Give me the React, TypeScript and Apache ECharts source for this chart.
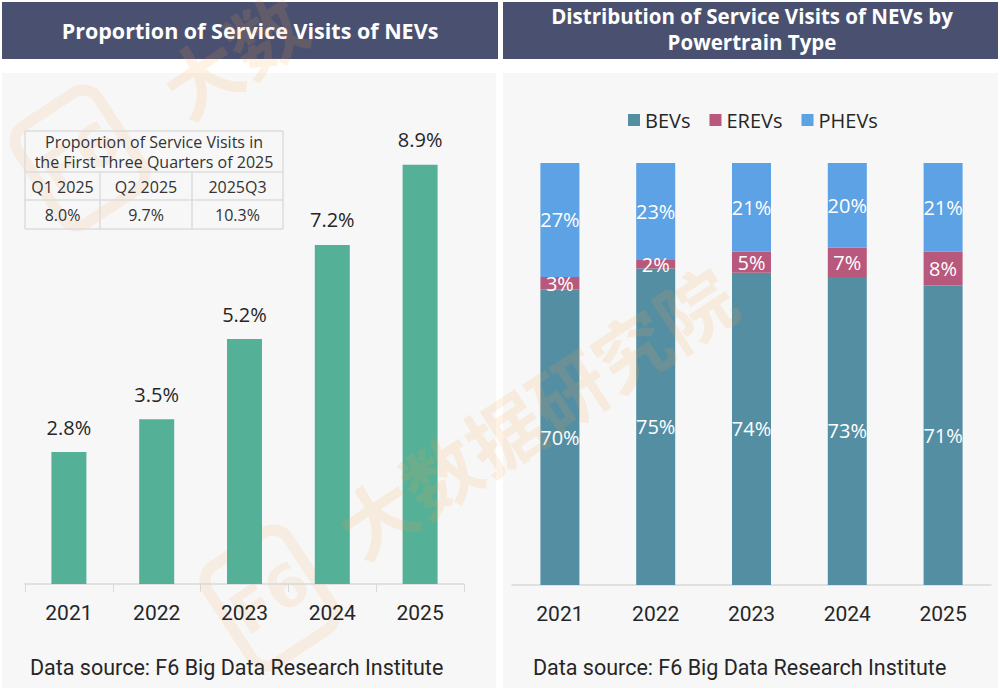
import React, { useEffect, useRef } from 'react';
import * as echarts from 'echarts';

const years = ['2021', '2022', '2023', '2024', '2025'];
const nevShare = [2.8, 3.5, 5.2, 7.2, 8.9];
const bevShare = [70, 75, 74, 73, 71];
const erevShare = [3, 2, 5, 7, 8];
const phevShare = [27, 23, 21, 20, 21];

const tableTitle = ['Proportion of Service Visits in', 'the First Three Quarters of 2025'];
const quarterLabels = ['Q1 2025', 'Q2 2025', '2025Q3'];
const quarterValues = ['8.0%', '9.7%', '10.3%'];

const leftTitle = 'Proportion of Service Visits of NEVs';
const rightTitle = ['Distribution of Service Visits of NEVs by', 'Powertrain Type'];
const sourceText = 'Data source: F6 Big Data Research Institute';

const HEADER = '#4a5170';
const PANEL = '#f7f7f7';
const TEXT = '#262626';
const LABEL_FONT = 'Open Sans';
const NARROW_FONT = 'Roboto';
const WM = '#f5a04a';

const App: React.FC = () => {
    const chartRef = useRef<HTMLDivElement>(null);

    useEffect(() => {
        document.body.style.margin = '0';
        if (!chartRef.current) return;
        const chart = echarts.init(chartRef.current, null, { renderer: 'svg' });

        // table grid (x columns / y rows)
        const colX = [25, 100, 192, 283];
        const rowY = [131, 172, 200, 229];
        const tableLines: any[] = [];
        rowY.forEach(y => tableLines.push({ type: 'line', z: 5, shape: { x1: colX[0], y1: y, x2: colX[3], y2: y }, style: { stroke: '#dcdcdc', lineWidth: 1.5 } }));
        [colX[0], colX[3]].forEach(x => tableLines.push({ type: 'line', z: 5, shape: { x1: x, y1: rowY[0], x2: x, y2: rowY[3] }, style: { stroke: '#dcdcdc', lineWidth: 1.5 } }));
        [colX[1], colX[2]].forEach(x => tableLines.push({ type: 'line', z: 5, shape: { x1: x, y1: rowY[1], x2: x, y2: rowY[3] }, style: { stroke: '#dcdcdc', lineWidth: 1.5 } }));
        const cellText = { fill: '#333', fontSize: 16, fontFamily: LABEL_FONT, align: 'center', verticalAlign: 'middle' };
        const tableTexts: any[] = [];
        tableTitle.forEach((t, i) => tableTexts.push({ type: 'text', z: 5, x: (colX[0] + colX[3]) / 2, y: 142 + i * 20, style: { ...cellText, text: t } }));
        quarterLabels.forEach((t, i) => tableTexts.push({ type: 'text', z: 5, x: (colX[i] + colX[i + 1]) / 2, y: 187, style: { ...cellText, text: t } }));
        quarterValues.forEach((t, i) => tableTexts.push({ type: 'text', z: 5, x: (colX[i] + colX[i + 1]) / 2, y: 215, style: { ...cellText, text: t } }));

        // watermark: badge + text
        const watermark = (lx: number, ly: number, tx: number, ty: number, word: string) => [
            {
                type: 'group', x: lx, y: ly, rotation: 0.58, z: 100, silent: true,
                children: [
                    { type: 'rect', shape: { x: -48, y: -58, width: 96, height: 116, r: 18 }, style: { fill: 'none', stroke: WM, lineWidth: 11, opacity: 0.12 } },
                    { type: 'text', x: 0, y: 0, style: { text: 'F6', fill: WM, fontSize: 58, fontWeight: 'bold', fontFamily: 'DejaVu Sans', align: 'center', verticalAlign: 'middle', opacity: 0.12 } }
                ]
            },
            {
                type: 'text', x: tx, y: ty, rotation: 0.58, z: 100, silent: true,
                style: { text: word, fill: WM, fontSize: 76, fontWeight: 'bold', fontFamily: 'Noto Sans CJK SC', align: 'left', verticalAlign: 'middle', opacity: 0.14 }
            }
        ];

        const option: echarts.EChartsOption = {
            animation: false,
            backgroundColor: '#ffffff',
            graphic: [
                { type: 'rect', z: -10, shape: { x: 2, y: 73, width: 494, height: 615 }, style: { fill: PANEL } },
                { type: 'rect', z: -10, shape: { x: 503, y: 73, width: 495, height: 615 }, style: { fill: PANEL } },
                { type: 'rect', z: 1, shape: { x: 2, y: 2, width: 496, height: 57 }, style: { fill: HEADER } },
                { type: 'rect', z: 1, shape: { x: 503, y: 2, width: 495, height: 57 }, style: { fill: HEADER } },
                { type: 'text', z: 2, x: 250, y: 30, style: { text: leftTitle, fill: '#fff', fontSize: 21.5, fontWeight: 'bold', fontFamily: LABEL_FONT, align: 'center', verticalAlign: 'middle' } },
                ...rightTitle.map((t, i) => ({ type: 'text', z: 2, x: 752, y: 16 + i * 26, style: { text: t, fill: '#fff', fontSize: 20.5, fontWeight: 'bold', fontFamily: LABEL_FONT, align: 'center', verticalAlign: 'middle' } })),
                { type: 'text', z: 2, x: 30, y: 667, style: { text: sourceText, fill: TEXT, fontSize: 21.5, fontFamily: NARROW_FONT, align: 'left', verticalAlign: 'middle' } },
                { type: 'text', z: 2, x: 533, y: 667, style: { text: sourceText, fill: TEXT, fontSize: 21.5, fontFamily: NARROW_FONT, align: 'left', verticalAlign: 'middle' } },
                ...tableLines,
                ...tableTexts,
                ...watermark(270, 598, 344, 535, '大数据研究院'),
                ...watermark(80, 158, 169, 95, '大数')
            ] as any,
            legend: {
                data: ['BEVs', 'EREVs', 'PHEVs'],
                left: 623,
                top: 105,
                icon: 'rect',
                itemWidth: 12,
                itemHeight: 12,
                itemGap: 19,
                textStyle: { fontSize: 20, color: TEXT, fontFamily: LABEL_FONT }
            },
            grid: [
                { left: 25, top: 113, width: 439, height: 471 },
                { left: 512, top: 163, width: 479, height: 422 }
            ],
            xAxis: [
                {
                    type: 'category', gridIndex: 0, data: years,
                    axisLine: { lineStyle: { color: '#d9d9d9', width: 1.5 } },
                    axisTick: { show: true, length: 8, lineStyle: { color: '#d9d9d9' } },
                    axisLabel: { fontSize: 21, color: TEXT, fontFamily: NARROW_FONT, margin: 18 }
                },
                {
                    type: 'category', gridIndex: 1, data: years,
                    axisLine: { lineStyle: { color: '#d9d9d9', width: 1.5 } },
                    axisTick: { show: false },
                    axisLabel: { fontSize: 21, color: TEXT, fontFamily: NARROW_FONT, margin: 18 }
                }
            ],
            yAxis: [
                { type: 'value', gridIndex: 0, min: 0, max: 10, show: false },
                { type: 'value', gridIndex: 1, min: 0, max: 100, show: false }
            ],
            series: [
                {
                    name: 'NEV share', type: 'bar', xAxisIndex: 0, yAxisIndex: 0, data: nevShare, barWidth: 35,
                    itemStyle: { color: '#55b098' },
                    label: { show: true, position: 'top', distance: 15, formatter: (p: any) => p.value.toFixed(1) + '%', fontSize: 20, color: TEXT, fontFamily: LABEL_FONT }
                },
                {
                    name: 'BEVs', type: 'bar', stack: 'pt', xAxisIndex: 1, yAxisIndex: 1, data: bevShare, barWidth: 39,
                    itemStyle: { color: '#548ea3' },
                    label: { show: true, position: 'inside', formatter: '{c}%', fontSize: 20, color: '#fff', fontFamily: LABEL_FONT }
                },
                {
                    name: 'EREVs', type: 'bar', stack: 'pt', xAxisIndex: 1, yAxisIndex: 1, data: erevShare, barWidth: 39,
                    itemStyle: { color: '#b8587c' },
                    label: { show: true, position: 'inside', formatter: '{c}%', fontSize: 20, color: '#fff', fontFamily: LABEL_FONT }
                },
                {
                    name: 'PHEVs', type: 'bar', stack: 'pt', xAxisIndex: 1, yAxisIndex: 1, data: phevShare, barWidth: 39,
                    itemStyle: { color: '#5ca2e4' },
                    label: { show: true, position: 'inside', formatter: '{c}%', fontSize: 20, color: '#fff', fontFamily: LABEL_FONT }
                }
            ]
        };

        chart.setOption(option);
        return () => chart.dispose();
    }, []);

    return <div ref={chartRef} style={{ width: '1000px', height: '693px' }} />;
};

export default App;
